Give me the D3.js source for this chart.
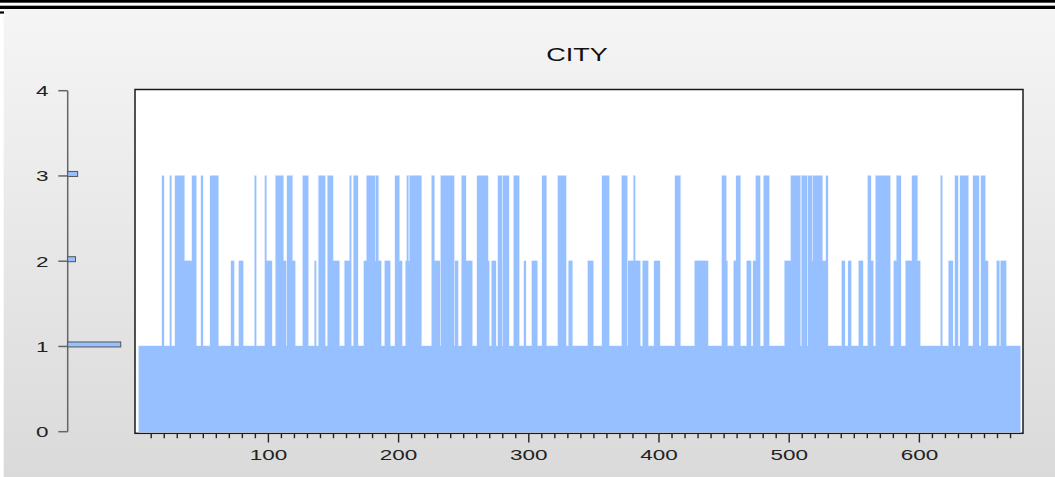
<!DOCTYPE html>
<html><head><meta charset="utf-8">
<script src="https://cdn.jsdelivr.net/npm/d3@7"></script>
<style>html,body{margin:0;padding:0;background:#fff;overflow:hidden}</style>
</head><body>
<svg id="c" width="1055" height="477"></svg>
<script>
// ---- data ----
const title = "CITY";
const city = [
1,1,1,1,1,1,1,1,1,1, 1,1,1,1,1,1,1,1,3,1, 1,1,1,1,3,1,1,1,3,3, 3,3,3,3,3,2,2,2,2,2, 2,3,3,3,1,1,1,1,3,1,
1,1,1,1,1,3,3,3,3,3, 3,1,1,1,1,1,1,1,1,1, 1,2,2,1,1,1,1,2,2,2, 1,1,1,1,1,1,1,1,1,3, 1,1,1,1,1,1,1,3,2,2,
2,2,1,1,1,3,3,3,3,3, 3,2,2,1,3,3,3,3,2,2, 1,1,1,1,1,1,3,3,3,3, 1,1,1,1,1,2,1,1,3,3, 3,3,3,1,1,3,3,3,3,2,
2,2,2,2,1,1,1,1,2,2, 2,2,3,1,1,3,3,3,1,1, 1,1,1,2,2,3,3,3,3,3, 3,2,3,3,2,2,1,1,1,2, 2,2,2,1,1,1,1,3,3,3,
2,2,1,1,1,2,3,2,3,3, 3,3,3,3,3,3,3,1,1,1, 1,1,1,1,1,3,3,2,2,2, 2,1,3,3,3,3,3,3,3,3, 3,3,1,2,2,1,1,1,3,3,
3,2,2,2,2,2,1,1,1,1, 3,3,3,3,3,3,3,3,2,1, 1,2,2,2,1,1,3,3,3,1, 3,3,3,3,1,1,1,1,3,3, 3,3,1,1,1,1,2,1,1,1,
1,1,2,2,2,2,1,1,1,1, 3,3,3,1,1,1,1,1,1,1, 1,1,3,3,3,3,3,3,1,1, 2,2,2,1,1,1,1,1,1,1, 1,1,1,1,1,2,2,2,2,1,
1,1,1,1,1,1,3,3,3,3, 3,1,1,1,1,1,1,1,1,1, 1,3,3,3,3,1,2,2,2,2, 3,2,2,2,2,1,1,2,2,2, 2,1,1,1,1,1,2,2,2,2,
1,1,1,1,1,1,1,1,1,1, 1,1,3,3,3,3,1,1,1,1, 1,1,1,1,1,1,1,2,2,2, 2,2,2,2,2,2,2,1,1,1, 1,1,1,1,1,1,1,1,3,3,
3,2,1,1,1,1,1,2,2,3, 3,3,1,1,1,1,1,2,2,2, 1,1,2,2,3,3,3,1,1,1, 3,3,3,3,1,1,1,1,1,1, 1,1,1,1,1,1,2,2,2,2,
2,3,3,3,3,3,3,3,1,3, 3,3,3,1,3,3,3,2,3,3, 3,3,3,3,3,2,2,2,3,1, 1,1,1,1,1,1,1,1,1,1, 2,2,1,1,1,2,2,1,1,1,
1,1,1,2,2,2,1,1,1,1, 3,3,2,2,1,1,3,3,3,3, 3,3,3,3,3,3,3,1,1,1, 2,2,3,3,3,1,1,1,1,2, 2,2,2,2,3,3,3,3,2,2,
1,1,1,1,1,1,1,1,1,1, 1,1,1,1,1,1,3,1,1,1, 1,1,2,2,2,1,1,3,3,1, 1,3,3,3,3,3,3,1,1,1, 1,3,3,3,3,1,1,3,3,3,
2,2,1,1,1,1,1,1,1,2, 2,1,2,2,2,2,1,1,1,1, 1,1,1,1,1,1,1
];
const yTicks = [0, 1, 2, 3, 4];
const xMajorTicks = [100, 200, 300, 400, 500, 600];
const histValues = [1, 2, 3];
const histFreq = [0.75, 0.11, 0.14];

// ---- drawing ----
const svg = d3.select("#c");
const barColor = "rgb(150,192,255)";
const haloColor = "rgb(196,220,255)";
const N = city.length;

const defs = svg.append("defs");
const grad = defs.append("linearGradient").attr("id", "bg").attr("x1", 0).attr("y1", 0).attr("x2", 0).attr("y2", 1);
grad.append("stop").attr("offset", "0%").attr("stop-color", "#f5f5f5");
grad.append("stop").attr("offset", "100%").attr("stop-color", "#dadada");

svg.append("rect").attr("x", 0).attr("y", 0).attr("width", 1055).attr("height", 477).attr("fill", "#fff");
svg.append("rect").attr("x", 3.7).attr("y", 9.7).attr("width", 1052).attr("height", 468).attr("fill", "url(#bg)");
svg.append("rect").attr("x", 0).attr("y", 0).attr("width", 1055).attr("height", 2.7).attr("fill", "#000");
svg.append("rect").attr("x", 0).attr("y", 5.7).attr("width", 1055).attr("height", 3.3).attr("fill", "#000");
svg.append("rect").attr("x", 0).attr("y", 11.4).attr("width", 4).attr("height", 2.2).attr("fill", "#000");

function label(g, x, y, txt, size, anchor, color) {
  g.append("text")
    .attr("transform", `translate(${x},${y}) scale(1.5,1)`)
    .attr("text-anchor", anchor)
    .attr("font-family", "Liberation Sans, Arial, sans-serif")
    .attr("font-size", size)
    .attr("fill", color)
    .text(txt);
}

// scales
const xs = d3.scaleLinear().domain([0.5, N + 0.5]).range([138.85, 1020.3]);
const ys = d3.scaleLinear().domain([0, 4]).range([431.7, 90.7]);
const hs = d3.scaleLinear().domain([0, 1]).range([0, 70.7]);

// title
label(svg, 577, 60.5, title, 18, "middle", "#111");

// plot frame
svg.append("rect").attr("x", 135).attr("y", 89.5).attr("width", 888).attr("height", 343.8)
  .attr("fill", "#fff").attr("stroke", "#1a1a1a").attr("stroke-width", 1.5);

// bars: light halo pass, then solid fills
const bw = xs(1.5) - xs(0.5);
svg.append("g")
  .selectAll("rect").data(city).join("rect")
  .attr("x", (d, i) => xs(i + 0.5))
  .attr("width", bw)
  .attr("y", d => ys(d))
  .attr("height", d => ys(0) - ys(d))
  .attr("fill", "none").attr("stroke", haloColor).attr("stroke-width", 1.3);
svg.append("g").attr("shape-rendering", "crispEdges")
  .selectAll("rect").data(city).join("rect")
  .attr("x", (d, i) => xs(i + 0.5))
  .attr("width", bw)
  .attr("y", d => ys(d))
  .attr("height", d => ys(0) - ys(d))
  .attr("fill", barColor);

// bottom axis ticks
const minor = d3.range(10, N, 10);
const gx = svg.append("g");
gx.selectAll("line").data(minor).join("line")
  .attr("x1", d => xs(d)).attr("x2", d => xs(d))
  .attr("y1", 433.3)
  .attr("y2", d => (d % 100 === 0 ? 442.5 : 438.2))
  .attr("stroke", "#222").attr("stroke-width", 1.4);
xMajorTicks.forEach(t => label(gx, xs(t), 460, String(t), 15, "middle", "#222"));

// left distribution axis
const ax = 67.7;
const gl = svg.append("g");
gl.append("line").attr("x1", ax).attr("x2", ax).attr("y1", ys(4)).attr("y2", ys(0))
  .attr("stroke", "#666").attr("stroke-width", 1.5);
gl.selectAll("line.t").data(yTicks).join("line").attr("class", "t")
  .attr("x1", 58.3).attr("x2", ax).attr("y1", d => ys(d)).attr("y2", d => ys(d))
  .attr("stroke", "#666").attr("stroke-width", 1.5);
yTicks.forEach(t => label(gl, 48.5, ys(t) + 5.5, String(t), 15, "end", "#222"));

// histogram bars
gl.selectAll("rect").data(histValues).join("rect")
  .attr("x", ax)
  .attr("y", d => ys(d) - 4.5)
  .attr("width", (d, i) => hs(histFreq[i]))
  .attr("height", 5)
  .attr("fill", barColor).attr("stroke", "#555").attr("stroke-width", 1);
</script>
</body></html>
